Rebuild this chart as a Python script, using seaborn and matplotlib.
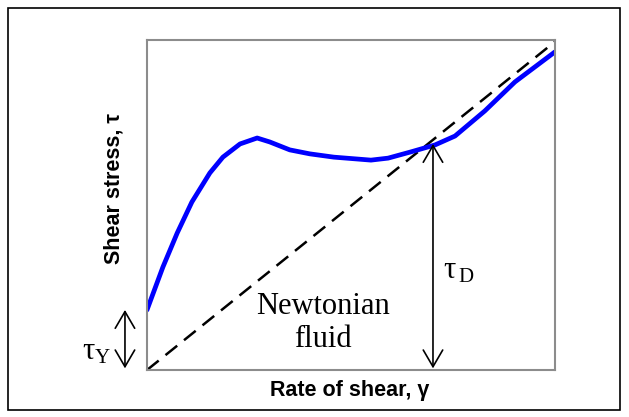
import matplotlib
matplotlib.use('Agg')
import matplotlib.pyplot as plt
import numpy as np
import pandas as pd
import seaborn as sns
from matplotlib.patches import Rectangle

# curve (rate of shear vs shear stress, 0..1 units)
shear_rate = [0.0, 0.039, 0.074, 0.110, 0.154, 0.186, 0.228, 0.270, 0.301, 0.350,
              0.399, 0.458, 0.549, 0.591, 0.647, 0.706, 0.755, 0.828, 0.902, 1.0]
shear_stress = [0.182, 0.312, 0.415, 0.509, 0.597, 0.645, 0.685, 0.703, 0.691, 0.667,
                0.655, 0.645, 0.636, 0.642, 0.661, 0.682, 0.709, 0.785, 0.873, 0.964]
newton_rate = [0.0, 1.0]
newton_stress = [0.0, 0.995]

tau_y = 0.182
tau_d_rate = 0.701
tau_d = 0.685

df = pd.DataFrame({'rate': shear_rate, 'stress': shear_stress})
df_n = pd.DataFrame({'rate': newton_rate, 'stress': newton_stress})

sns.set_style("white")

fig = plt.figure(figsize=(6.29, 4.17), dpi=100)
ax = fig.add_axes([0.2337, 0.1127, 0.6486, 0.7914])

sns.lineplot(x='rate', y='stress', data=df_n, color='black', linestyle=(0, (6, 3.5)),
             linewidth=1.8, ax=ax)
sns.lineplot(x='rate', y='stress', data=df, color='#0000ff', linewidth=3.4, ax=ax,
             solid_joinstyle='round', solid_capstyle='round')

ax.set_xlim(0, 1)
ax.set_ylim(0, 1)
ax.set_xticks([])
ax.set_yticks([])
ax.set_xlabel('')
ax.set_ylabel('')
for s in ax.spines.values():
    s.set_color('#8c8c8c')
    s.set_linewidth(1.5)

# axis labels
ax.text(0.4975, -0.063, 'Rate of shear, γ', fontsize=15.5, fontweight='bold',
        family='Liberation Sans', ha='center', va='center', transform=ax.transAxes,
        color='black')
ax.text(-0.081, 0.55, 'Shear stress, τ', fontsize=15.5, fontweight='bold',
        family='Liberation Sans', ha='center', va='center', rotation=90,
        transform=ax.transAxes, color='black')

arrow = dict(arrowstyle='<->,head_length=0.6,head_width=0.35', color='black', lw=1.2,
             mutation_scale=20, shrinkA=0, shrinkB=0)
# tau_D arrow
ax.annotate('', xy=(tau_d_rate, tau_d), xytext=(tau_d_rate, 0.005), arrowprops=arrow)
ax.text(tau_d_rate + 0.026, 0.30, 'τ', fontsize=22, family='Liberation Serif',
        va='center', ha='left', color='black')
ax.text(tau_d_rate + 0.062, 0.28, 'D', fontsize=15, family='Liberation Serif',
        va='center', ha='left', color='black')
# tau_Y arrow
ax.annotate('', xy=(-0.054, tau_y), xytext=(-0.054, 0.005), arrowprops=arrow,
            annotation_clip=False)
ax.text(-0.128, 0.055, 'τ', fontsize=22, family='Liberation Serif',
        va='center', ha='right', color='black')
ax.text(-0.127, 0.035, 'Y', fontsize=15, family='Liberation Serif',
        va='center', ha='left', color='black')

ax.text(0.431, 0.142, 'Newtonian\nfluid', fontsize=22, family='Liberation Serif',
        ha='center', va='center', linespacing=1.15, color='black')

fig.patches.append(Rectangle((8 / 629, 7 / 417), 612 / 629, 402 / 417, transform=fig.transFigure,
                             fill=False, edgecolor='black', linewidth=1.2))

plt.savefig('out.png', dpi=100)
